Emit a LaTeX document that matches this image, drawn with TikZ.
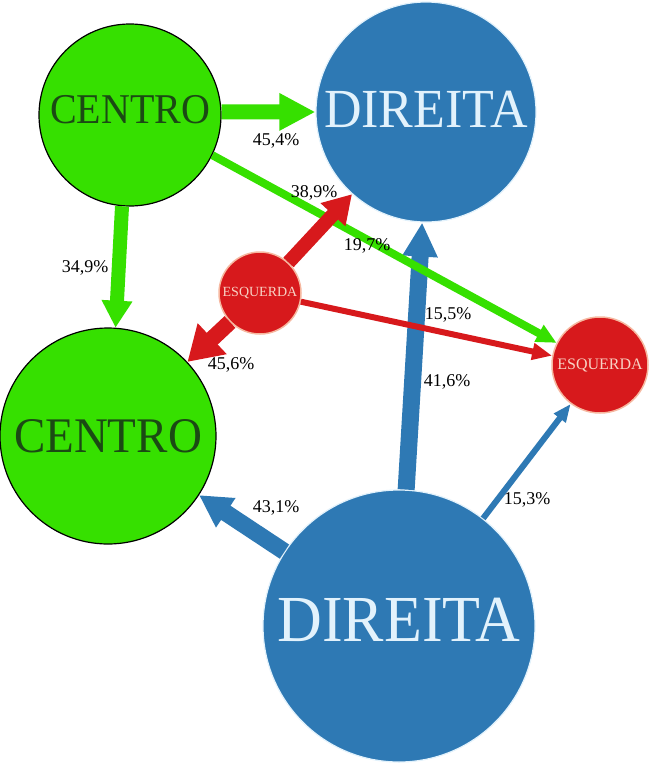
\documentclass[tikz,border=0pt]{standalone}
\usepackage{fontspec}
\setmainfont{Liberation Serif}
\usetikzlibrary{arrows.meta}
\definecolor{cgreen}{HTML}{36E000}
\definecolor{cblue}{HTML}{2E79B4}
\definecolor{cred}{HTML}{D7191C}
\definecolor{cdark}{HTML}{1B4A14}
\definecolor{cpale}{HTML}{E2F2FC}
\definecolor{cpink}{HTML}{F6B8A0}
\definecolor{cpinktext}{HTML}{F8D2C4}
\newcommand{\tallword}[1]{\scalebox{1}[1.06]{#1}}
\tikzset{
  centronode/.style={circle, draw=black, line width=1.2pt, fill=cgreen, text=cdark, inner sep=0pt},
  direitanode/.style={circle, draw=cpale, line width=1.2pt, fill=cblue, text=cpale, inner sep=0pt},
  esquerdanode/.style={circle, draw=cpink, line width=1.5pt, fill=cred, text=cpinktext, inner sep=0pt},
  lbl/.style={inner sep=0pt, font=\fontsize{18}{18}\selectfont, text=black},
  flow/.style n args={4}{draw=#1, line width=#2, -{Triangle[width=#3, length=#4]}, #1},
}
\begin{document}
\begin{tikzpicture}[x=1pt, y=-1pt]
\useasboundingbox[fill=white] (0,0) rectangle (650,764);
% nodes
\node[centronode, minimum size=182pt, text depth=12pt, font=\fontsize{40}{40}\selectfont] (ct) at (130,115) {\tallword{CENTRO}};
\node[direitanode, minimum size=220pt, text depth=6pt, font=\fontsize{52}{52}\selectfont] (dt) at (426,112) {\tallword{DIREITA}};
\node[esquerdanode, minimum size=82pt, font=\fontsize{14}{14}\selectfont] (es) at (260,293) {ESQUERDA};
\node[esquerdanode, minimum size=96pt, font=\fontsize{16}{16}\selectfont] (er) at (600,365) {ESQUERDA};
\node[centronode, minimum size=216pt, font=\fontsize{47}{47}\selectfont] (cb) at (108,436) {\tallword{CENTRO}};
\node[direitanode, minimum size=272pt, text depth=12pt, font=\fontsize{62}{62}\selectfont] (db) at (399,626) {\tallword{DIREITA}};
% blue flows
\draw[flow={cblue}{17pt}{33pt}{34pt}] (db.87.5) -- (dt.-92.5);
\draw[flow={cblue}{17pt}{33pt}{32pt}] (db.147) -- (cb.-33);
\draw[flow={cblue}{6pt}{14pt}{18pt}] (db.52) -- (er.-127);
% green flows
\draw[flow={cgreen}{15pt}{35pt}{36pt}] (ct.2) -- (dt.180);
\draw[flow={cgreen}{14pt}{29pt}{27pt}] (ct.-95) -- (cb.86);
\draw[flow={cgreen}{8pt}{18pt}{20pt}] (ct.-26.6) -- (er.153);
% red flows
\draw[flow={cred}{14pt}{32pt}{28pt}] (es.47) -- (dt.-132);
\draw[flow={cred}{16pt}{40pt}{34pt}] (es.-136.6) -- (cb.43);
\draw[flow={cred}{6pt}{16pt}{20pt}] (es.-12) -- (er.169);
% labels
\node[lbl] (l1) at (276,141) {45,4\%};
\node[lbl] (l2) at (85,268) {34,9\%};
\node[lbl] (l3) at (314,193) {38,9\%};
\node[lbl] (l4) at (367,246) {19,7\%};
\node[lbl] (l5) at (231,365) {45,6\%};
\node[lbl] (l6) at (448,315) {15,5\%};
\node[lbl] (l7) at (447,382) {41,6\%};
\node[lbl] (l8) at (527,500) {15,3\%};
\node[lbl] (l9) at (276,508) {43,1\%};
\end{tikzpicture}
\end{document}
